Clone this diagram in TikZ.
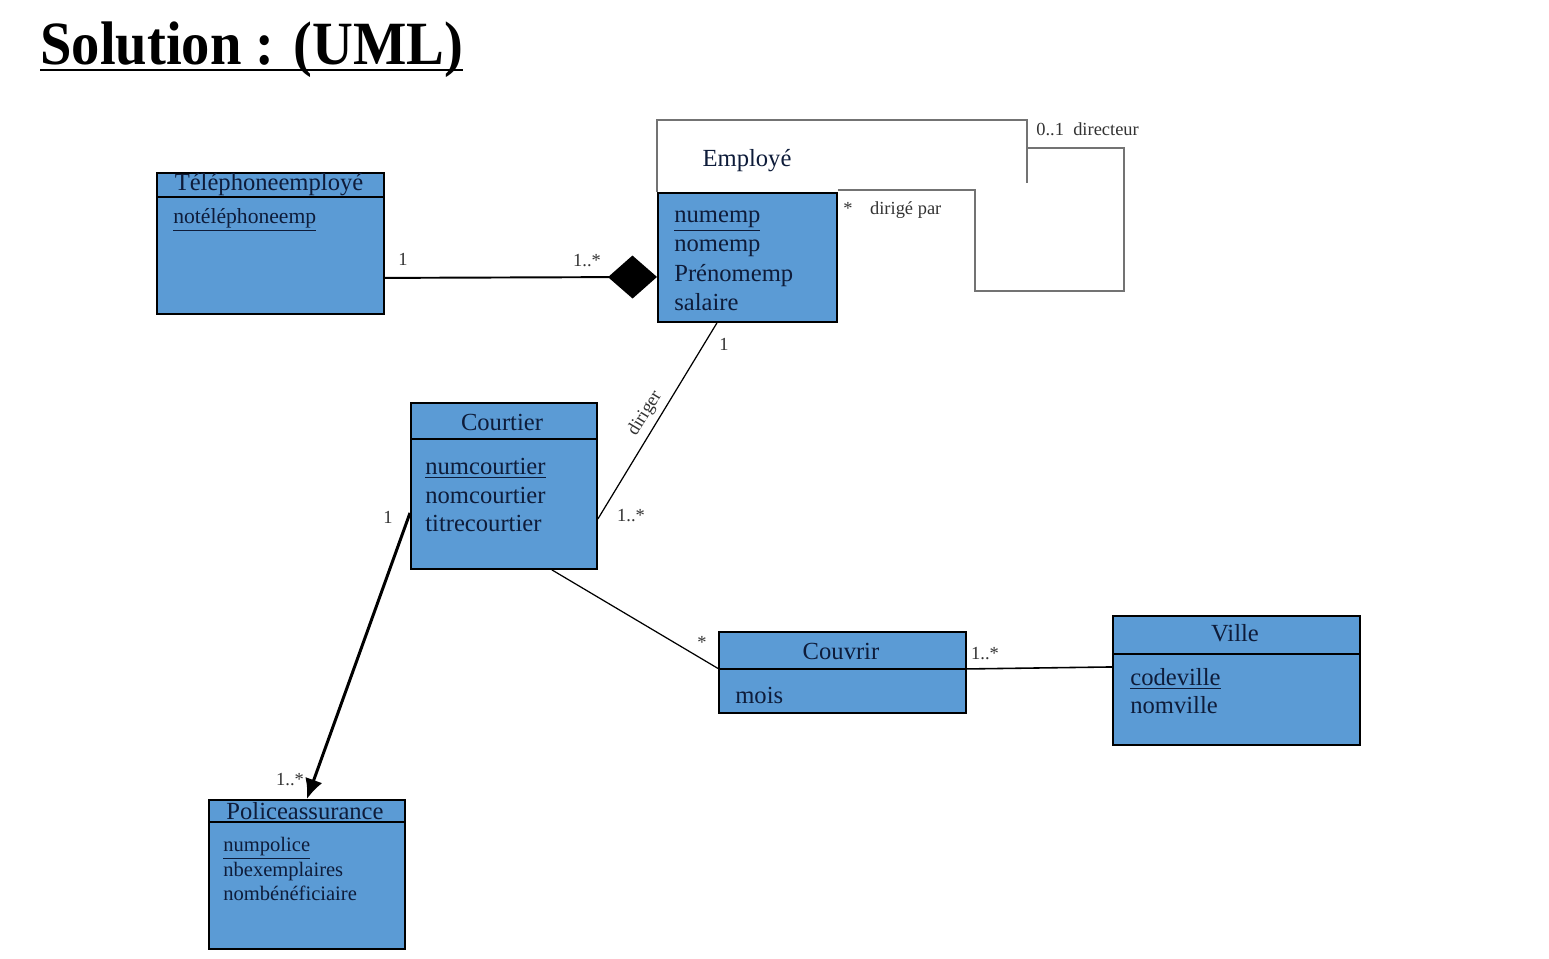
\documentclass[tikz,border=0pt]{standalone}
\usepackage{fontspec}
\setmainfont{Liberation Serif}
\usepackage{graphicx}
\usetikzlibrary{arrows.meta, positioning}
\definecolor{umlblue}{RGB}{91,155,213}
\definecolor{umltext}{RGB}{14,28,58}

\begin{document}
\begin{tikzpicture}[x=0.02cm, y=-0.02cm,
        classbox/.style={draw=black, line width=1.1pt, fill=umlblue, anchor=north west, inner sep=0pt},
        ctitle/.style={text=umltext, font=\fontsize{14}{16}\selectfont, inner sep=0pt},
        attr/.style={text=umltext, align=left, anchor=west, inner sep=0pt},
        lbl/.style={font=\fontsize{10.5}{12}\selectfont, text=black!80, inner sep=0pt}]
        \useasboundingbox[fill=white] (0,0) rectangle (1549,959);

        % titre
        \node[anchor=base west, inner sep=0pt, font=\fontsize{35}{40}\bfseries] (title) at (40,65) {\scalebox{0.92}[1]{Solution : (UML)}};
        \draw[line width=1.7pt] ([yshift=-0.1cm]title.base west) -- ([yshift=-0.1cm]title.base east);

        % classes
        \node[classbox, minimum width=4.54cm, minimum height=2.82cm] (tel) at (156,172) {};
        \draw[line width=1.1pt] ([yshift=-0.5cm]tel.north west) -- ([yshift=-0.5cm]tel.north east);
        \node[ctitle] (telname) at (269,185) {Téléphoneemployé};
        \node[attr, font=\fontsize{12.3}{14}\selectfont] (telattr) at (173,220) {\underline{notéléphoneemp}};

        \node[classbox, minimum width=3.58cm, minimum height=2.58cm] (emp) at (657,192) {};
        \node[attr, font=\fontsize{14}{16.8}\selectfont] (empattr) at (674,261) {\underline{numemp}\\nomemp\\Prénomemp\\salaire};
        \draw[black!55, line width=1.2pt] (emp.north west) -- ++(0,-72) coordinate (hdrtl) -- ++(370,0) coordinate (hdrtr) -- ++(0,63);
        \coordinate (hdr) at ([yshift=-0.56cm]hdrtr);
        \node[ctitle] (empname) at (747,161) {Employé};

        \node[classbox, minimum width=3.72cm, minimum height=3.32cm] (court) at (410,402) {};
        \draw[line width=1.1pt] ([yshift=-0.74cm]court.north west) -- ([yshift=-0.74cm]court.north east);
        \node[ctitle] (courtname) at (502,422) {Courtier};
        \node[attr, font=\fontsize{14}{16.4}\selectfont] (courtattr) at (425,495) {\underline{numcourtier}\\nomcourtier\\titrecourtier};

        \node[classbox, minimum width=3.92cm, minimum height=2.98cm] (police) at (208,799) {};
        \draw[line width=1.6pt] ([yshift=-0.46cm]police.north west) -- ([yshift=-0.46cm]police.north east);
        \node[ctitle] (policename) at (305,811) {Policeassurance};
        \node[attr, font=\fontsize{11.7}{13.9}\selectfont] (policeattr) at (223,869) {\underline{numpolice}\\nbexemplaires\\nombénéficiaire};

        \node[classbox, minimum width=4.94cm, minimum height=1.62cm] (couv) at (718,631) {};
        \draw[line width=1.1pt] ([yshift=-0.76cm]couv.north west) -- ([yshift=-0.76cm]couv.north east);
        \node[ctitle] (couvname) at (841,651) {Couvrir};
        \node[attr, font=\fontsize{14}{16}\selectfont] (couvattr) at (735,695) {mois};

        \node[classbox, minimum width=4.94cm, minimum height=2.58cm] (ville) at (1112,615) {};
        \draw[line width=1.1pt] ([yshift=-0.78cm]ville.north west) -- ([yshift=-0.78cm]ville.north east);
        \node[ctitle] (villename) at (1235,633) {Ville};
        \node[attr, font=\fontsize{14}{15.9}\selectfont] (villeattr) at (1130,691) {\underline{codeville}\\nomville};

        % associations
        \draw[line width=1.1pt, -{Diamond[length=0.98cm, width=0.86cm]}] ([yshift=0.74cm]tel.south east) -- ([yshift=-0.39cm]emp.west);
        \node[lbl] at (403,259) {1};
        \node[lbl] at (587,261) {1..*};

        \draw[black!55, line width=1.2pt] ([yshift=0.04cm]emp.north east) -- ++(137,0) -- ++(0,101) -- ++(149,0) |- (hdr);
        \node[lbl, anchor=west] at (1036,129) {0..1\ \ directeur};
        \node[lbl, anchor=west] at (843,210) {*\hspace{10pt}dirigé par};

        \draw[line width=0.7pt] ([yshift=-0.66cm]court.east) -- node[midway, sloped, above=3pt, lbl] {diriger} ([xshift=-0.61cm]emp.south);
        \node[lbl] at (724,344) {1};
        \node[lbl] at (631,516) {1..*};

        \draw[line width=1.7pt, -{Latex[length=0.4cm, width=0.36cm]}] ([yshift=-0.54cm]court.west) -- (police.north);
        \node[lbl] at (388,517) {1};
        \node[lbl] at (290,780) {1..*};

        \draw[line width=0.7pt] ([xshift=0.96cm]court.south) -- ([yshift=0.08cm]couv.west);
        \node[lbl] at (702,642) {*};

        \draw[line width=0.9pt] ([yshift=0.07cm]couv.east) -- ([yshift=0.27cm]ville.west);
        \node[lbl] at (985,654) {1..*};
    \end{tikzpicture}
\end{document}
